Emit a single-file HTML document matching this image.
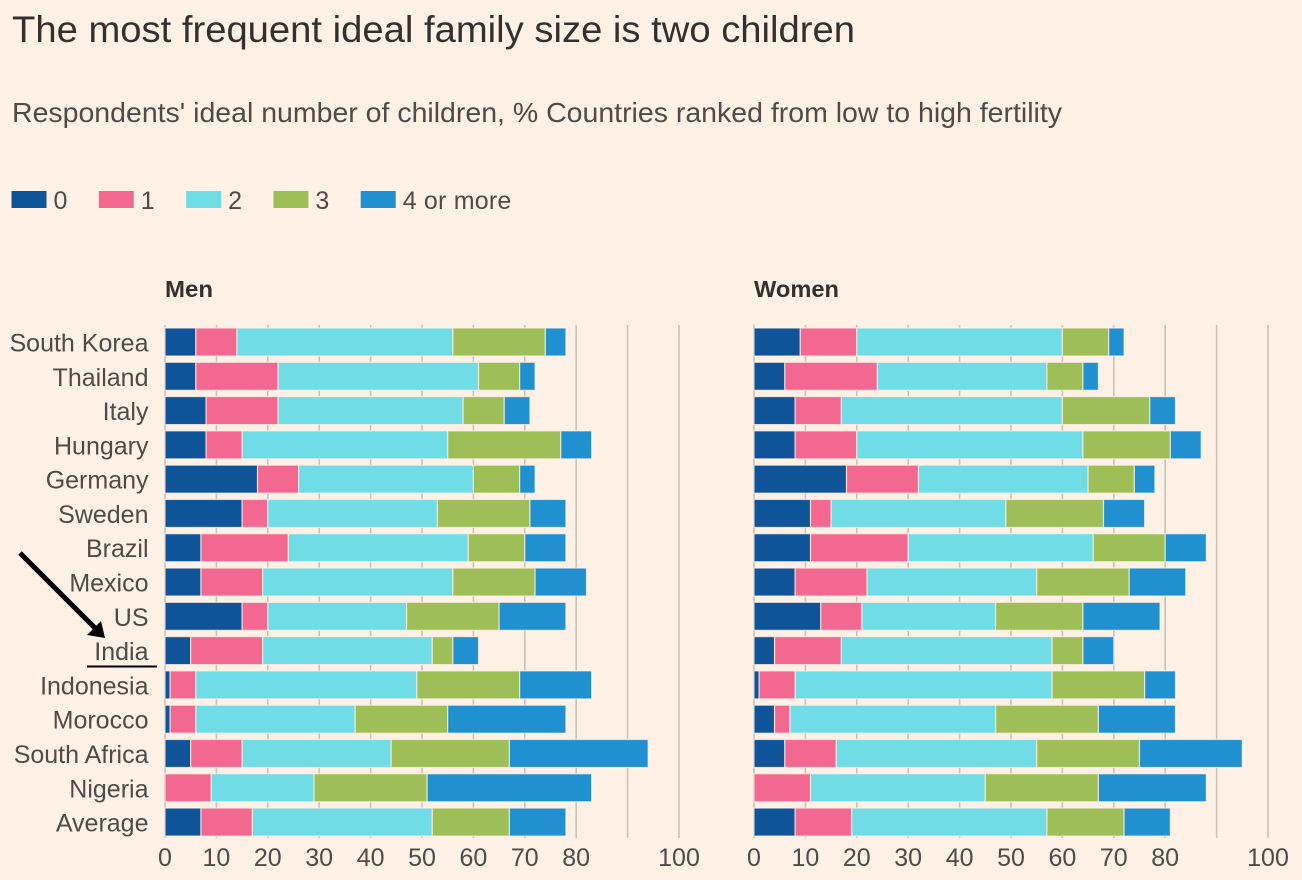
<!DOCTYPE html>
<html lang="en">
<head>
<meta charset="utf-8">
<title>The most frequent ideal family size is two children</title>
<style>
html,body{margin:0;padding:0;background:#fff1e5;}
svg{display:block;font-family:"Liberation Sans",sans-serif;}
</style>
</head>
<body>
<svg id="chart" width="1302" height="880" viewBox="0 0 1302 880" xmlns="http://www.w3.org/2000/svg">
  <rect width="1302" height="880" fill="#fff1e5"/>
  <text x="12" y="42" font-size="37" fill="#33302e" textLength="843" lengthAdjust="spacingAndGlyphs">The most frequent ideal family size is two children</text>
  <text x="12" y="122" font-size="28" fill="#4f4b48" textLength="1050" lengthAdjust="spacingAndGlyphs">Respondents' ideal number of children, % Countries ranked from low to high fertility</text>
  <g id="legend"></g>
  <text x="165" y="297" font-size="23" font-weight="bold" fill="#33302e" textLength="48" lengthAdjust="spacingAndGlyphs">Men</text>
  <text x="754" y="297" font-size="23" font-weight="bold" fill="#33302e" textLength="85" lengthAdjust="spacingAndGlyphs">Women</text>
  <g id="men-panel"></g>
  <g id="women-panel"></g>
  <g id="country-labels"></g>
  <g id="india-annotation">
    <line x1="20" y1="553" x2="96" y2="629" stroke="#000" stroke-width="5"/>
    <polygon points="105,638 87,635 101,621" fill="#000"/>
    <line x1="87" y1="666.5" x2="157" y2="666.5" stroke="#000" stroke-width="2"/>
  </g>
</svg>
<script>
var countries = ["South Korea","Thailand","Italy","Hungary","Germany","Sweden","Brazil","Mexico","US","India","Indonesia","Morocco","South Africa","Nigeria","Average"];
var seriesNames = ["0","1","2","3","4 or more"];
var tickValues = [0,10,20,30,40,50,60,70,80,90,100];
var tickLabels = ["0","10","20","30","40","50","60","70","80","","100"];

var menZero  = [6,6,8,8,18,15,7,7,15,5,1,1,5,0,7];
var menOne   = [8,16,14,7,8,5,17,12,5,14,5,5,10,9,10];
var menTwo   = [42,39,36,40,34,33,35,37,27,33,43,31,29,20,35];
var menThree = [18,8,8,22,9,18,11,16,18,4,20,18,23,22,15];
var menFour  = [4,3,5,6,3,7,8,10,13,5,14,23,27,32,11];

var womenZero  = [9,6,8,8,18,11,11,8,13,4,1,4,6,0,8];
var womenOne   = [11,18,9,12,14,4,19,14,8,13,7,3,10,11,11];
var womenTwo   = [40,33,43,44,33,34,36,33,26,41,50,40,39,34,38];
var womenThree = [9,7,17,17,9,19,14,18,17,6,18,20,20,22,15];
var womenFour  = [3,3,5,6,4,8,8,11,15,6,6,15,20,21,9];

var SVGNS = "http://www.w3.org/2000/svg";
var colors = ["#0f5499","#f26890","#70dce6","#9ebf58","#2190d0"];
var pxPerUnit = 5.14;
var firstRowCenter = 342;
var rowStep = 34.29;
var barHeight = 28;
var gridTop = 325;
var gridBottom = 838;

function make(tag, attrs, parent) {
  var el = document.createElementNS(SVGNS, tag);
  for (var k in attrs) { el.setAttribute(k, attrs[k]); }
  parent.appendChild(el);
  return el;
}
function xScale(origin, value) { return origin + value * pxPerUnit; }
function yScale(index) { return firstRowCenter + index * rowStep; }

function drawPanel(parent, origin, prefix, series) {
  tickValues.forEach(function (t, i) {
    var grid = make("line", {x1: xScale(origin, t), x2: xScale(origin, t), y1: gridTop, y2: gridBottom, stroke: "#cfc1b5", "stroke-width": 1.6}, parent);
    
    
    if (tickLabels[i] !== "") {
      var lab = make("text", {x: xScale(origin, t), y: 866, "font-size": 25, "text-anchor": "middle", fill: "#4f4b48"}, parent);
      lab.textContent = tickLabels[i];
      
      
    }
  });
  countries.forEach(function (c, row) {
    var cum = 0;
    series.forEach(function (values, s) {
      var v = values[row];
      if (v > 0) {
        var bar = make("rect", {
          x: xScale(origin, cum),
          y: yScale(row) - barHeight / 2,
          width: v * pxPerUnit,
          height: barHeight,
          fill: colors[s],
          stroke: "#fff1e5",
          "stroke-opacity": 0.75,
          "stroke-width": 1.2
        }, parent);
        
        
      }
      cum += v;
    });
  });
}

drawPanel(document.getElementById("men-panel"), 165, "men", [menZero, menOne, menTwo, menThree, menFour]);
drawPanel(document.getElementById("women-panel"), 754, "women", [womenZero, womenOne, womenTwo, womenThree, womenFour]);

var labelGroup = document.getElementById("country-labels");
countries.forEach(function (c, row) {
  var t = make("text", {x: 148.5, y: yScale(row) + 9.5, "font-size": 25, "text-anchor": "end", fill: "#4f4b48"}, labelGroup);
  t.textContent = c;
  
  
});

var legendGroup = document.getElementById("legend");
seriesNames.forEach(function (name, i) {
  var x = 11 + i * 87.3;
  var sw = make("rect", {x: x, y: 190.5, width: 36, height: 18, fill: colors[i], stroke: "#fff1e5", "stroke-width": 1}, legendGroup);
  
  
  var lt = make("text", {x: x + 42.5, y: 209, "font-size": 25, "letter-spacing": 0.2, fill: "#4f4b48"}, legendGroup);
  lt.textContent = name;
  
  
});
</script>
</body>
</html>
